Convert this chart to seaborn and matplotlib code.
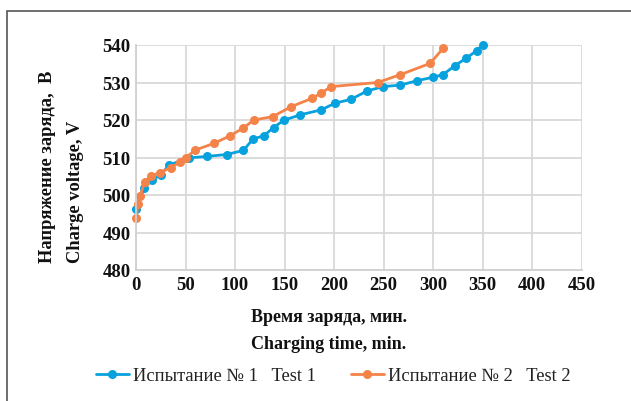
import matplotlib
matplotlib.use("Agg")
import matplotlib.pyplot as plt
import seaborn as sns
import pandas as pd
from matplotlib.patches import Rectangle
from matplotlib.lines import Line2D

# Test 1 data
t1_time = [0, 8, 16.5, 25, 33.5, 53.5, 72, 91.5, 108.5, 118, 129, 139, 149, 166, 187,
           201, 217, 233, 249, 267, 284, 300, 310, 322, 333.5, 344, 350]
t1_volt = [496.3, 501.9, 504.1, 505.4, 508.0, 509.9, 510.3, 510.8, 511.9, 514.9, 515.8,
           518.0, 519.9, 521.4, 522.7, 524.5, 525.5, 527.7, 528.9, 529.3, 530.5, 531.4,
           532.1, 534.5, 536.5, 538.5, 540.0]
# Test 2 data
t2_time = [0, 2, 4, 9, 15, 24, 35, 44, 50, 60, 79, 95, 108, 119, 138, 157, 178, 187,
           197, 244, 267, 297, 310]
t2_volt = [493.8, 497.5, 499.7, 503.6, 505.0, 506.0, 507.3, 508.7, 509.9, 512.0, 513.8,
           515.8, 517.8, 520.0, 520.9, 523.6, 525.8, 527.2, 528.9, 530.0, 532.1, 535.1,
           539.1]

series_labels = ["Испытание № 1   Test 1", "Испытание № 2   Test 2"]
x_ticks = [0, 50, 100, 150, 200, 250, 300, 350, 400, 450]
y_ticks = [480, 490, 500, 510, 520, 530, 540]
ylabel_lines = ["Напряжение заряда,  B", "Charge voltage, V"]
xlabel_lines = ["Время заряда, мин.", "Charging time, min."]

blue = "#07A2DD"
orange = "#F4834A"

sns.set_theme(style="white")
plt.rcParams["font.family"] = ["Liberation Serif", "DejaVu Serif"]

df = pd.concat([
    pd.DataFrame({"time": t1_time, "volt": t1_volt, "series": series_labels[0]}),
    pd.DataFrame({"time": t2_time, "volt": t2_volt, "series": series_labels[1]}),
])

fig = plt.figure(figsize=(6.31, 4.02), dpi=100)
ax = fig.add_axes([136 / 631, 1 - 271 / 402, 445.7 / 631, 225 / 402])

sns.lineplot(data=df, x="time", y="volt", hue="series", sort=False,
             palette=[blue, orange], marker="o", markersize=6.5,
             markeredgewidth=0, linewidth=2.0, ax=ax, legend=False)
for ln in ax.get_lines():
    ln.set_clip_on(False)

ax.set_xlim(0, 450)
ax.set_ylim(480, 540)
ax.set_xticks(x_ticks)
ax.set_yticks(y_ticks)
ax.grid(True, color="#d9d9d9", linewidth=1.3)
ax.set_axisbelow(True)
for s in ax.spines.values():
    s.set_visible(False)
ax.spines["left"].set_visible(True)
ax.spines["bottom"].set_visible(True)
ax.spines["left"].set_color("#d0d0d0")
ax.spines["bottom"].set_color("#d0d0d0")
ax.spines["left"].set_linewidth(1.3)
ax.spines["bottom"].set_linewidth(1.3)
ax.tick_params(axis="both", length=0, pad=4, labelsize=13.5, labelcolor="#111111")
for lab in ax.get_xticklabels() + ax.get_yticklabels():
    lab.set_fontweight("bold")
ax.set_xlabel("")
ax.set_ylabel("")

# axis titles
fig.text(47 / 631, 1 - 263 / 402, ylabel_lines[0], rotation=90, ha="center", va="bottom",
         fontsize=13.3, fontweight="bold", color="#111111")
fig.text(75 / 631, 1 - 263 / 402, ylabel_lines[1], rotation=90, ha="center", va="bottom",
         fontsize=13.3, fontweight="bold", color="#111111")
fig.text(251 / 631, 1 - 318 / 402, xlabel_lines[0], ha="left", va="center",
         fontsize=13, fontweight="bold", color="#111111")
fig.text(251 / 631, 1 - 345 / 402, xlabel_lines[1], ha="left", va="center",
         fontsize=13, fontweight="bold", color="#111111")

# legend
handles = [Line2D([0], [0], color=blue, lw=2.0, marker="o", markersize=6.5, markeredgewidth=0),
           Line2D([0], [0], color=orange, lw=2.0, marker="o", markersize=6.5, markeredgewidth=0)]
fig.legend(handles, series_labels, loc="center left", bbox_to_anchor=(79 / 631, 1 - 377 / 402),
           ncol=2, frameon=False, prop={"family": ["Liberation Serif", "DejaVu Serif"], "size": 13.3},
           handlelength=1.8, handletextpad=0.2, columnspacing=1.9, labelcolor="#222222")

# outer border
fig.patches.append(Rectangle((7 / 631, -0.05), 1.2, 1 - 12 / 402 + 0.05,
                             transform=fig.transFigure, fill=False,
                             edgecolor="#555555", linewidth=1.2))

fig.savefig("out.png", dpi=100)
